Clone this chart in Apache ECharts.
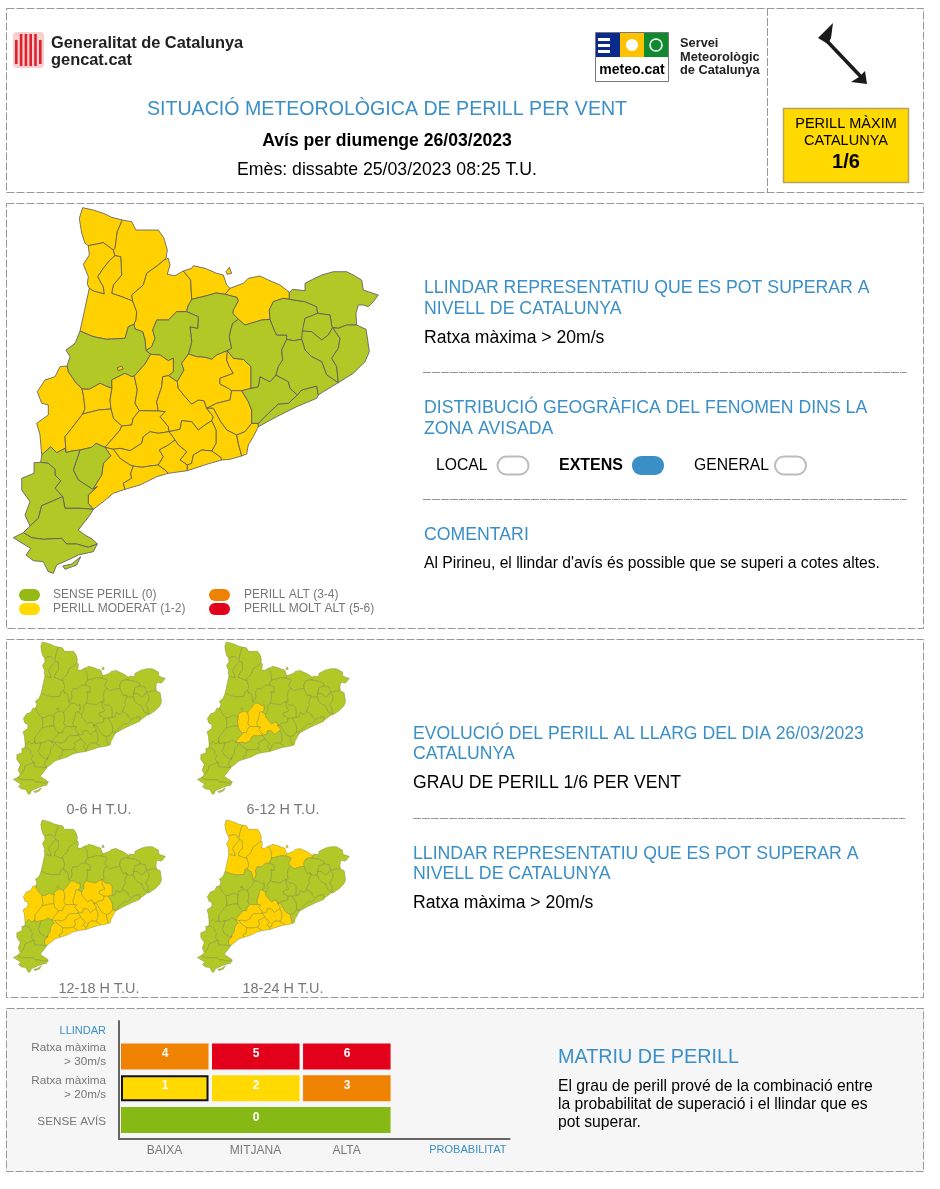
<!DOCTYPE html>
<html>
<head>
<meta charset="utf-8">
<style>html,body{margin:0;padding:0;background:#fff}#main{width:940px;height:1189px}</style>
<script src="https://cdn.jsdelivr.net/npm/echarts@6/dist/echarts.min.js"></script>
</head>
<body>
<div id="main"></div>
<script>
// valors llegits del butlleti
var comarques = ['Aran','Alta Ribagorca','Pallars Sobira','Pallars Jussa','Alt Urgell','Cerdanya','Ripolles','Bergueda','Solsones','Noguera','Segria','Pla Urgell','Urgell','Garrigues','Segarra','Anoia','Bages','Moianes','Valles Occ','Baix Llobregat','Alt Penedes','Barcelones','Maresme','Valles Or','Osona','Garrotxa','Alt Emporda','Pla Estany','Girones','Baix Emporda','Selva','Conca Barbera','Alt Camp','Baix Camp','Tarragones','Baix Penedes','Garraf','Priorat','Ribera Ebre','Terra Alta','Baix Ebre','Montsia'];
var nord = ['Aran','Alta Ribagorca','Pallars Sobira','Pallars Jussa','Alt Urgell','Cerdanya','Ripolles'];
var centre = ['Segria','Pla Urgell','Urgell','Garrigues','Segarra','Anoia','Bages','Moianes','Valles Occ','Baix Llobregat','Alt Penedes','Barcelones','Conca Barbera','Alt Camp','Baix Camp','Tarragones','Baix Penedes','Garraf'];
var perillDia = nord.concat(centre);
var perill0_6 = [];
var perill6_12 = ['Urgell','Segarra','Anoia','Conca Barbera'];
var perill12_18 = centre;
var perill18_24 = nord.concat(['Anoia','Baix Llobregat','Alt Penedes','Conca Barbera','Alt Camp','Baix Camp','Tarragones','Baix Penedes','Garraf']);
var hores = ['0-6 H T.U.','6-12 H T.U.','12-18 H T.U.','18-24 H T.U.'];

var probabilitat = ['BAIXA','MITJANA','ALTA'];
var llindars = ['SENSE AVÍS','Ratxa màxima\n> 20m/s','Ratxa màxima\n> 30m/s','LLINDAR'];
var graus30 = [4,5,6];
var graus20 = [1,2,3];
var grau0 = [0];
var grauActual = 1;

var VERD = '#b2c827', GROC = '#ffd100';
var colorGrau = {0:'#86b816',1:'#ffd900',2:'#ffd900',3:'#ef8200',4:'#ef8200',5:'#e3001b',6:'#e3001b'};
var BLAU = '#3a8fc7', GRIS = '#777', FONT = '"Liberation Sans",Arial,sans-serif';

// mapa de comarques traçat a ull: nusos, arcs entre nusos i cicles de nusos
var nusos = {1:[122.3,220],2:[113.3,250],3:[88.3,245.7],4:[115,255.7],5:[89.3,288.3],6:[132.7,301],7:[164,260],8:[183.3,271],9:[230,288.3],10:[191.7,299.3],11:[225,294.3],12:[289.3,292.3],13:[289.3,299.3],14:[317.7,313.3],15:[332.7,327.7],16:[302.3,331],17:[301.7,339.3],18:[270,319.3],19:[286.7,339.3],20:[276,375],21:[251,388.3],22:[227.3,350.7],23:[238.3,319.3],24:[188.5,354],25:[186.7,311.7],27:[134,324.3],28:[146,350.7],29:[150.7,354.3],31:[168.3,375.7],32:[177.3,381.7],33:[80,331],34:[67,366],35:[82,389],36:[112,388],37:[134.3,376],38:[158.3,411],39:[139.3,410.7],40:[111,409],41:[121.7,426],42:[82.7,414],43:[66,452.5],44:[41.7,455],45:[80,450],46:[105,447.3],47:[92.7,489.3],48:[93.3,509.3],49:[40.7,462.3],51:[62.7,496.7],52:[30,526],53:[97.3,544],54:[23.3,532.7],55:[231.7,390.7],56:[241.7,390.7],57:[251.7,423.3],58:[297.3,395],59:[318.3,395],60:[258.3,423.3],61:[258.3,426.7],62:[338.3,382.7],63:[356.7,325],64:[206.7,408.3],65:[211.7,420.7],66:[221.7,460],67:[211.7,451],68:[187.3,465],69:[187.3,470.7],70:[169,431.7],71:[175,440],72:[158.3,465],73:[168.3,473.3],75:[113.3,449.3],76:[133.3,466],77:[125,489.3],78:[241.7,456],79:[236.7,435]};
var arcs = {
 '3-1':[85,243.3,81.7,233.3,79.3,218.3,82.7,207.7,93.3,210,103.3,213.3,111.7,217.3],
 '1-2':[117.3,231.7,115,248.3],
 '2-3':[103.3,242.7,91.7,245],
 '3-5':[89.3,255,83.3,264.3,88.3,276.7,87.3,284],
 '4-5':[110,260,103.3,268.3,97.7,276.7,103.3,286.7,104.3,294,93.3,291],
 '1-7':[131.7,221.7,136,230,147.3,230,158.3,230,164,238.3,167.3,250,166,258.3],
 '4-6':[120.7,256.7,121.7,275,113.3,285,111.7,293.3,121.7,296.7],
 '6-7':[131.7,295,143.3,285,146.7,273.3,158.3,265],
 '7-8':[168.3,258.3,170,265,167.3,274.3,175,275.7],
 '8-10':[190.7,280],
 '8-9':[191.7,268.3,193.3,265.7,205,268.3,216.7,273.3,223.3,275,226.7,285],
 '10-11':[206.7,295.7,216,293],
 '9-12':[243.3,283.3,248.3,278.3,260,276,268.3,280,280,285],
 '13-18':[283.3,298.3,273.3,301.7,269.3,310],
 '18-23':[261.7,320,245,325],
 '23-11':[232.7,313.3,233.3,310,238.3,300.7,236.7,297.3],
 '23-22':[232.7,323.3,230.7,330,229.3,336.7,231.7,348.3],
 '22-24':[216.7,355,211.7,359.3,205,357.3,196.7,356.7],
 '10-25':[188,306],
 '24-25':[191.7,341.7,190,326.7,197.7,328.3,198.3,316.7],
 '25-28':[176.7,311.7,168.3,320,156.7,320,152.7,330,155,338.3,151.7,346.7],
 '28-27':[145,340,142.7,331.7,135,329],
 '27-6':[136,320,136.7,311.7],
 '27-33':[128.3,326.7,125,338.3,106.7,339.3,93.3,336.7],
 '33-34':[75,343.3,66,350,70,356.7],
 '34-35':[68.3,371.7,75,381.7],
 '35-36':[89.3,389.3,100,383.3,108,387],
 '36-37':[111.7,380,125,373.3,131.7,376.7],
 '37-29':[145,364],
 '29-31':[160,355,168.3,360.7,173.3,358.3,173.3,371.7],
 '24-32':[181.7,363.3,184,370],
 '31-38':[162.7,376.7,161.7,386.7,156.7,401.7],
 '38-70':[165,411.7,160,416.7,168.3,426.7],
 '37-39':[137.3,390,135,403.3],
 '36-40':[110,400],
 '40-41':[113.3,418.3],
 '41-39':[131.7,425,133.3,418.3],
 '35-42':[83.3,395,85,408.3],
 '42-40':[98.3,410],
 '42-43':[71.7,428.3,65,436.7],
 '34-44':[60,366.7,55,376.7,45,380,37.3,391.7,41.7,403.3,48.3,405,48.3,415,36.7,423.3,40,435],
 '44-43':[50.7,446.7,56.7,452.7,65,448.3],
 '43-45':[72,451],
 '45-46':[91.7,447.3,96,443.3],
 '41-46':[120,430,110,441.7],
 '46-47':[110.7,455.7,103.3,463.3,101.7,475],
 '45-47':[73.3,470,78.3,480],
 '47-48':[97.3,486.7,88.3,495,88.3,503.3],
 '48-51':[80,508.3,65,508.3],
 '51-49':[55,488.3,60.7,480.7,55,475,55,469.3,48.3,463.3],
 '49-52':[34,462.7,34,473.3,21.7,478.3,21.7,490,30,501.7,25,515],
 '51-52':[53.3,500.7,41.7,505.7,38.3,518.3],
 '48-53':[90,515,78.3,530,85,535,92.7,539.3],
 '54-53':[31.7,537.7,43.3,539.3,61.7,538.3,66.7,544,76.7,544,88.3,547.3],
 '53-54':[93.3,551.7,78.3,555,71.7,558.3,56.7,565,53.3,573.3,48.3,571.7,43.3,561.7,33.3,560.7,26,555,30.7,548.3,25,545,13.3,537.7],
 '13-14':[305,301.7,316.7,306.7],
 '14-15':[330,315,331.7,326],
 '14-16':[305,318.3,303.3,330],
 '16-15':[311.7,331.7,321.7,340,328.3,335],
 '17-19':[293.3,340.7],
 '18-19':[275,331.7,276.7,335,286.7,335],
 '19-20':[281.7,350,282.7,360,278.3,366.7],
 '20-21':[270,381.7,260,376.7,258.3,386.7],
 '21-22':[251,376.7,251,366.7,243.3,359.3,233.3,358.3],
 '22-55':[226.7,360,229.3,366.7,233.3,373.3,220,378.3,220,384,228.3,388.3],
 '56-57':[248.3,401.7,251.7,410],
 '60-58':[268.3,413.3,278.3,404,288.3,403.3],
 '20-58':[288.3,381.7,290,388.3],
 '58-59':[301.7,390,316.7,386],
 '61-59':[276.7,416.7,296.7,406.7,316.7,398.3],
 '59-62':[323.3,391.7],
 '17-62':[305,350,311.7,356.7,321.7,361.7,326.7,375,336.7,381.7],
 '15-62':[340,338.3,338.3,348.3,331.7,358.3,336.7,366.7],
 '15-63':[338.3,328.3,346.7,325],
 '62-63':[353.3,373.3,365,361.7,369.3,351.7,367.7,340,366,329.3],
 '12-63':[292.7,289.3,305,290.7,305,283.3,312.7,279.3,321.7,275,333.3,271.7,346.7,271.7,353.3,275,361.7,280,363.3,290,368.3,291.7,378.3,295,373.3,301.7,368.3,306.7,363.3,305,358.3,305,356,313.3],
 '55-64':[230,400,216.7,403.3],
 '32-64':[178.3,388.3,185,396.7,191.7,404,198.3,400,204,400.7],
 '64-65':[213.3,416.7],
 '64-79':[213.3,408.3,220.7,421.7,226.7,430],
 '57-79':[245,431.7],
 '79-78':[238.3,443.3],
 '61-78':[253.3,436.7,248.3,445,246.7,454],
 '78-66':[230,459.3],
 '65-67':[216,430,216,443.3],
 '67-66':[220.7,457.3],
 '66-69':[210,463.3],
 '67-68':[201.7,450,193.3,455,191.7,463.3],
 '65-70':[205,425,198.3,430,191.7,421.7,181.7,420.7,180,429.3],
 '68-71':[180,460,186.7,451.7,178.3,445],
 '71-72':[168.3,445,159.3,450,163.3,456.7],
 '72-73':[165,470],
 '69-73':[180,471.7],
 '70-75':[158.3,433.3,150,431.7,143.3,436.7,141.7,443.3,130,450.7,120,448.3],
 '75-76':[120,458.3,130,465],
 '76-72':[141.7,467.3,150,466],
 '76-77':[130.7,473.3,131.7,478.3,123.3,483.3],
 '73-77':[156.7,476.7,140,485],
 '77-48':[113.3,493.3,103.3,501.7]
};
var cicles = {
 'Aran':[3,1,2],'Alta Ribagorca':[3,2,4,5],'Pallars Sobira':[1,7,6,4,2],'Pallars Jussa':[4,6,27,33,5],
 'Alt Urgell':[7,8,10,25,28,27,6],'Cerdanya':[8,9,11,10],'Ripolles':[9,12,13,18,23,11],'Bergueda':[10,11,23,22,24,25],
 'Solsones':[25,24,32,31,29,28],'Noguera':[33,27,28,29,37,36,35,34],'Segria':[34,35,42,43,44],'Pla Urgell':[35,36,40,42],
 'Urgell':[36,37,39,41,40],'Garrigues':[42,40,41,46,45,43],'Segarra':[37,29,31,38,39],'Anoia':[31,32,64,65,70,38],
 'Bages':[24,22,55,64,32],'Moianes':[22,21,56,55],'Valles Occ':[55,56,57,79,64],'Baix Llobregat':[64,79,78,66,67,65],
 'Alt Penedes':[70,65,67,68,71],'Barcelones':[79,57,60,61,78],'Maresme':[58,59,61,60],'Valles Or':[56,21,20,58,60,57],
 'Osona':[23,18,19,20,21,22],'Garrotxa':[13,14,16,17,19,18],'Alt Emporda':[12,63,15,14,13],'Pla Estany':[14,15,16],
 'Girones':[16,15,62,17],'Baix Emporda':[15,63,62],'Selva':[17,62,59,58,20,19],'Conca Barbera':[41,39,38,70,75,46],
 'Alt Camp':[75,70,71,72,76],'Baix Camp':[46,75,76,77,48,47],'Tarragones':[76,72,73,77],'Baix Penedes':[71,68,69,73,72],
 'Garraf':[68,67,66,69],'Priorat':[45,46,47],'Ribera Ebre':[43,45,47,48,51,49,44],'Terra Alta':[49,51,52],
 'Baix Ebre':[54,53,48,51,52],'Montsia':[54,53]
};
// illots: Llivia, l'enclavament de l'Urgell i la punta del delta
var illots = {
 'Cerdanya':[226,271.7,229.3,267.3,231.7,273.3,227.3,274.3],
 'Urgell':[117.3,367.7,121.7,366,123.3,369,118.3,370.7],
 'Montsia':[62.7,566,71.7,564,80.7,556.7,76.7,565,65,569.3]
};

function anell(cicle) {
	var ring = [];
	cicle.forEach(function (a, i) {
		var b = cicle[(i + 1) % cicle.length];
		ring.push([nusos[a][0], -nusos[a][1]]);
		var dir = arcs[a + '-' + b];
		var pts = dir ? dir.slice() : [];
		if (!dir && arcs[b + '-' + a]) {
			var inv = arcs[b + '-' + a];
			for (var k = inv.length - 2; k >= 0; k -= 2) pts.push(inv[k], inv[k + 1]);
		}
		for (var j = 0; j < pts.length; j += 2) ring.push([pts[j], -pts[j + 1]]);
	});
	ring.push(ring[0]);
	return ring;
}
function anellPla(flat) {
	var ring = [];
	for (var i = 0; i < flat.length; i += 2) ring.push([flat[i], -flat[i + 1]]);
	ring.push(ring[0]);
	return ring;
}
var geojson = {type: 'FeatureCollection', features: comarques.map(function (nom) {
	var poly = [[anell(cicles[nom])]];
	if (illots[nom]) poly.push([anellPla(illots[nom])]);
	return {type: 'Feature', properties: {name: nom}, geometry: {type: 'MultiPolygon', coordinates: poly}};
})};

function mapa(id, grocs, left, top, w, h, vora, ample) {
	echarts.registerMap(id, geojson);
	return {
		type: 'map', map: id, left: left, top: top, width: w, height: h, aspectScale: 1, roam: false, silent: true,
		label: {show: false},
		itemStyle: {borderColor: vora, borderWidth: ample},
		data: comarques.map(function (nom) {
			var g = grocs.indexOf(nom) >= 0;
			return {name: nom, value: g ? 1 : 0, itemStyle: {areaColor: g ? GROC : VERD}};
		})
	};
}

function txt(x, y, s, font, fill, align) {
	return {type: 'text', x: x, y: y, z: 1, style: {text: s, font: font + ' ' + FONT, fill: fill || '#000', align: align || 'left', verticalAlign: 'middle'}};
}
function caixa(x, y, w, h, fill, stroke, r, lw) {
	return {type: 'rect', z: 1, shape: {x: x, y: y, width: w, height: h, r: r || 0}, style: {fill: fill, stroke: stroke || null, lineWidth: lw || 1}};
}
function panell(x, y, w, h, fill) {
	return {type: 'rect', z: -1, shape: {x: x, y: y, width: w, height: h}, style: {fill: fill || '#fff', stroke: '#999', lineWidth: 1, lineDash: [8, 2]}};
}
function sep(x1, x2, y) {
	return {type: 'line', z: 1, shape: {x1: x1, y1: y, x2: x2, y2: y}, style: {stroke: '#999', lineWidth: 1, lineDash: [8, 1]}};
}

var g = [
	panell(6.5, 8.5, 917, 184), panell(6.5, 203.5, 917, 425), panell(6.5, 639.5, 917, 358), panell(6.5, 1008.5, 917, 163, '#f6f6f6'),
	{type: 'line', z: 1, shape: {x1: 767.5, y1: 8, x2: 767.5, y2: 192}, style: {stroke: '#999', lineWidth: 1, lineDash: [8, 2]}},
	// capçalera
	caixa(13, 32, 31, 36, '#f8cfcf', null, 4)
];
for (var i = 0; i < 6; i++) g.push(caixa(15 + i * 4.8, 34 + (i == 0 || i == 5 ? 6 : 0), 2.6, i == 0 || i == 5 ? 24 : 32, '#e0202c'));
g = g.concat([
	txt(51, 43.5, 'Generalitat de Catalunya', 'bold 16.4px', '#222'),
	txt(51, 60.5, 'gencat.cat', 'bold 16.4px', '#222'),
	caixa(595.5, 32.5, 73, 49, '#fff', '#777'),
	caixa(596, 33, 24, 24, '#0a2a8c'), caixa(620, 33, 24, 24, '#fdc300'), caixa(644, 33, 24, 24, '#0f8a2f'),
	caixa(598, 38, 12, 3, '#fff'), caixa(598, 44, 12, 3, '#fff'), caixa(598, 50, 12, 3, '#fff'),
	{type: 'circle', z: 1, shape: {cx: 632, cy: 45, r: 6}, style: {fill: '#fff'}},
	{type: 'circle', z: 1, shape: {cx: 656, cy: 45, r: 6}, style: {fill: 'none', stroke: '#fff', lineWidth: 1.5}},
	txt(632, 70, 'meteo.cat', 'bold 14px', '#000', 'center'),
	txt(680, 43.5, 'Servei', 'bold 12.8px', '#222'), txt(680, 57, 'Meteorològic', 'bold 12.8px', '#222'), txt(680, 70.5, 'de Catalunya', 'bold 12.8px', '#222'),
	{type: 'polygon', z: 1, shape: {points: [[833, 23], [818, 38], [828, 44], [831, 38]]}, style: {fill: '#1a1a1a'}},
	{type: 'line', z: 1, shape: {x1: 826, y1: 40, x2: 864, y2: 80}, style: {stroke: '#1a1a1a', lineWidth: 3.5}},
	{type: 'polygon', z: 1, shape: {points: [[865, 71], [867, 84], [851, 82], [859, 77]]}, style: {fill: '#1a1a1a'}},
	txt(387, 110, 'SITUACIÓ METEOROLÒGICA DE PERILL PER VENT', '19.6px', BLAU, 'center'),
	txt(387, 141, 'Avís per diumenge 26/03/2023', 'bold 17.6px', '#000', 'center'),
	txt(387, 170, 'Emès: dissabte 25/03/2023 08:25 T.U.', '17.7px', '#000', 'center'),
	caixa(783.5, 108.5, 125, 74, '#ffd900', '#b5a45f', 0, 1.5),
	txt(846, 124, 'PERILL MÀXIM', '14.5px', '#000', 'center'),
	txt(846, 141, 'CATALUNYA', '14.5px', '#000', 'center'),
	txt(846, 162, '1/6', 'bold 20px', '#000', 'center'),
	// llegenda
	caixa(19, 589, 21, 12, '#95b914', null, 6), caixa(19, 603, 21, 12, '#ffd900', null, 6),
	caixa(209, 589, 21, 12, '#ef8200', null, 6), caixa(209, 603, 21, 12, '#e3001b', null, 6),
	txt(53, 595, 'SENSE PERILL (0)', '12px', GRIS), txt(53, 608.5, 'PERILL MODERAT (1-2)', '12px', GRIS),
	txt(244, 595, 'PERILL ALT (3-4)', '12px', GRIS), txt(244, 608.5, 'PERILL MOLT ALT (5-6)', '12px', GRIS),
	// bloc central
	txt(424, 288, 'LLINDAR REPRESENTATIU QUE ES POT SUPERAR A', '17.7px', BLAU),
	txt(424, 309, 'NIVELL DE CATALUNYA', '17.7px', BLAU),
	txt(424, 338, 'Ratxa màxima > 20m/s', '17.6px'),
	sep(423, 907, 372.5),
	txt(424, 408, 'DISTRIBUCIÓ GEOGRÀFICA DEL FENOMEN DINS LA', '17.7px', BLAU),
	txt(424, 429, 'ZONA AVISADA', '17.7px', BLAU),
	txt(436, 465.5, 'LOCAL', '15.7px'), caixa(497.5, 456.5, 31, 18, '#fff', '#bbb', 9, 2),
	txt(559, 465.5, 'EXTENS', 'bold 16px'), caixa(632, 456, 32, 19, '#3a8fc7', null, 9),
	txt(694, 465.5, 'GENERAL', '15.7px'), caixa(775, 456.5, 31, 18, '#fff', '#bbb', 9, 2),
	sep(423, 907, 499.5),
	txt(424, 535, 'COMENTARI', '17.7px', BLAU),
	txt(424, 564, "Al Pirineu, el llindar d'avís és possible que se superi a cotes altes.", '15.65px'),
	// evolucio
	txt(99, 810, hores[0], '14.4px', GRIS, 'center'), txt(283, 810, hores[1], '14.4px', GRIS, 'center'),
	txt(99, 989, hores[2], '14.4px', GRIS, 'center'), txt(283, 989, hores[3], '14.4px', GRIS, 'center'),
	txt(413, 734, 'EVOLUCIÓ DEL PERILL AL LLARG DEL DIA 26/03/2023', '17.6px', BLAU),
	txt(413, 754, 'CATALUNYA', '17.6px', BLAU),
	txt(413, 783, 'GRAU DE PERILL 1/6 PER VENT', '17.6px'),
	sep(413, 905, 818.5),
	txt(413, 854, 'LLINDAR REPRESENTATIU QUE ES POT SUPERAR A', '17.7px', BLAU),
	txt(413, 874, 'NIVELL DE CATALUNYA', '17.7px', BLAU),
	txt(413, 903, 'Ratxa màxima > 20m/s', '17.6px'),
	// matriu
	txt(558, 1058, 'MATRIU DE PERILL', '19.8px', BLAU),
	txt(558, 1087, 'El grau de perill prové de la combinació entre', '15.7px'),
	txt(558, 1105, 'la probabilitat de superació i el llindar que es', '15.7px'),
	txt(558, 1123, 'pot superar.', '15.7px')
]);

// files de la matriu: [col inici, col fi, fila, grau]
var celes = [];
graus30.forEach(function (v, i) { celes.push([i, i + 1, 2, v]); });
graus20.forEach(function (v, i) { celes.push([i, i + 1, 1, v]); });
grau0.forEach(function (v) { celes.push([0, 3, 0, v]); });

var myChart = echarts.init(document.getElementById('main'));
var option = {
	animation: false,
	graphic: {elements: g},
	grid: {left: 119, top: 1021, width: 390.5, height: 118},
	xAxis: {
		type: 'value', min: 0, max: 4.29, splitLine: {show: false},
		axisLine: {onZero: false, lineStyle: {color: '#666', width: 2}}, axisTick: {show: false},
		axisLabel: {customValues: [0.5, 1.5, 2.5], color: GRIS, fontSize: 12, fontFamily: FONT, margin: 6,
			formatter: function (v) { return probabilitat[Math.floor(v)]; }},
		name: 'PROBABILITAT', nameLocation: 'end', nameGap: -3,
		nameTextStyle: {color: BLAU, fontSize: 11, fontFamily: FONT, align: 'right', verticalAlign: 'top', padding: [5, 0, 0, 0]}
	},
	yAxis: {
		type: 'value', min: 0, max: 3.72, splitLine: {show: false},
		axisLine: {onZero: false, lineStyle: {color: '#666', width: 2}}, axisTick: {show: false},
		axisLabel: {customValues: [0.545, 1.6, 2.65, 3.4], align: 'right', margin: 13, fontSize: 11.7, fontFamily: FONT, color: GRIS, lineHeight: 14,
			formatter: function (v) {
				var t = llindars[Math.floor(v)];
				return v > 3 ? '{b|' + t + '}' : t;
			},
			rich: {b: {color: BLAU, fontSize: 11, fontFamily: FONT}}}
	},
	series: [
		mapa('dia', perillDia, 13.3, 207.7, 365, 365.6, '#55555f', 0.8),
		mapa('h0', perill0_6, 13.3, 642, 152, 152.3, '#75843a', 0.4),
		mapa('h6', perill6_12, 197.3, 642, 152, 152.3, '#75843a', 0.4),
		mapa('h12', perill12_18, 13.3, 820, 152, 152.3, '#75843a', 0.4),
		mapa('h18', perill18_24, 197.3, 820, 152, 152.3, '#75843a', 0.4),
		{
			type: 'custom', silent: true, data: celes, encode: {x: [0, 1], y: 2},
			renderItem: function (params, api) {
				var a = api.coord([api.value(0), api.value(2) + 0.6]);
				var b = api.coord([api.value(1), api.value(2) + 0.6]);
				var grau = api.value(3);
				var alt = 26;
				var x = a[0] + 2, w = b[0] - a[0] - 3.5, y = a[1] - alt / 2;
				var actual = grau === grauActual;
				return {
					type: 'group', children: [
						{type: 'rect', shape: {x: actual ? x + 1 : x, y: actual ? y + 1 : y, width: actual ? w - 2 : w, height: actual ? alt - 2 : alt},
							style: {fill: colorGrau[grau], stroke: actual ? '#111' : null, lineWidth: actual ? 2 : 0}},
						{type: 'text', x: (a[0] + b[0]) / 2 + 0.5, y: a[1] - 2.5, style: {text: String(grau), fill: '#fff', font: 'bold 12px ' + FONT, align: 'center', verticalAlign: 'middle'}}
					]
				};
			}
		}
	]
};
myChart.setOption(option);
window.onresize = myChart.resize;
</script>
</body>
</html>
